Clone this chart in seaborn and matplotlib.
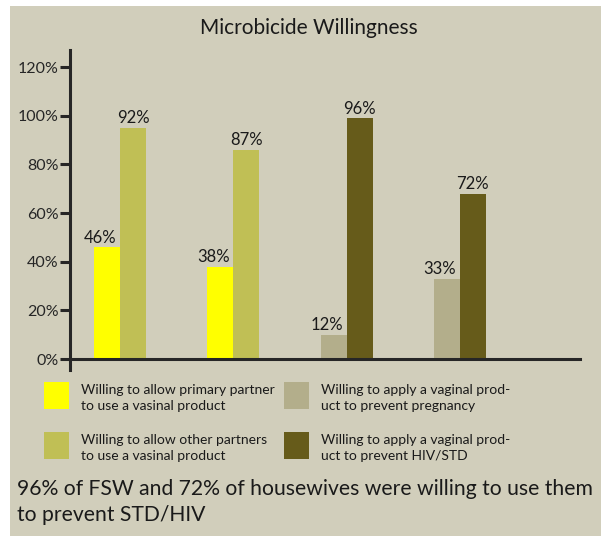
import matplotlib
matplotlib.use("Agg")
import matplotlib.pyplot as plt
from matplotlib.patches import Rectangle
import pandas as pd
import seaborn as sns

# ----------------------------------------------------------
# Data
# ----------------------------------------------------------

groups = ["FSW partners", "Housewife partners", "FSW prevention", "Housewife prevention"]

# bar heights as drawn, and the printed labels
left_values = [46, 38, 10, 33]
right_values = [95, 86, 99, 68]
left_labels = ["46%", "38%", "12%", "33%"]
right_labels = ["92%", "87%", "96%", "72%"]

series = [
    "Willing to allow primary partner\nto use a vasinal product",
    "Willing to allow other partners\nto use a vasinal product",
    "Willing to apply a vaginal prod-\nuct to prevent pregnancy",
    "Willing to apply a vaginal prod-\nuct to prevent HIV/STD",
]
series_colors = ["#ffff00", "#c0bf55", "#b3ae8b", "#665b1a"]
left_series = [0, 0, 2, 2]
right_series = [1, 1, 3, 3]

y_ticks = [0, 20, 40, 60, 80, 100, 120]

title = "Microbicide Willingness"
note = "96% of FSW and 72% of housewives were willing to use them\nto prevent STD/HIV"

BG = "#d1cebb"
W, H = 601, 536

# ----------------------------------------------------------
# Style
# ----------------------------------------------------------

sns.set_style("ticks")
plt.rcParams["font.family"] = ["Lato", "DejaVu Sans"]
plt.rcParams["text.color"] = "#1a1a1a"

df = pd.DataFrame({
    "group": groups * 2,
    "side": ["left"] * 4 + ["right"] * 4,
    "value": left_values + right_values,
})

# ----------------------------------------------------------
# Figure
# ----------------------------------------------------------

fig = plt.figure(figsize=(W / 100, H / 100), dpi=100, facecolor="white")
fig.add_artist(Rectangle((10 / W, 0), 1 - 10 / W, 1 - 6 / H,
                         transform=fig.transFigure, facecolor=BG,
                         edgecolor="none", zorder=-10))

ax = fig.add_axes([70 / W, 1 - 370 / H, 510 / W, 320 / H])
ax.set_facecolor("none")

sns.barplot(data=df, x="group", y="value", hue="side",
            hue_order=["left", "right"], order=groups,
            width=0.46, gap=0, saturation=1, legend=False, ax=ax)

for k, (cont, idx, labels) in enumerate([(ax.containers[0], left_series, left_labels),
                                         (ax.containers[1], right_series, right_labels)]):
    for bar, i in zip(cont, idx):
        bar.set_facecolor(series_colors[i])
        bar.set_edgecolor("none")
    texts = ax.bar_label(cont, labels=labels, padding=1, fontsize=12)
    if k == 0:
        # left-bar labels sit a little to the left in the original
        for t in texts:
            t.xyann = (-5, 1)

ax.set_xlim(-0.441, 4.06)
ax.set_ylim(-4.5, 127)
ax.set_yticks(y_ticks)
ax.set_yticklabels([f"{v}%" for v in y_ticks], fontsize=11.5)
ax.tick_params(axis="y", length=7, width=2.2, pad=1)
ax.tick_params(axis="x", length=0, labelbottom=False)
ax.set_xlabel("")
ax.set_ylabel("")

for s in ["top", "right"]:
    ax.spines[s].set_visible(False)
ax.spines["left"].set_linewidth(2.2)
ax.spines["bottom"].set_linewidth(2.2)
ax.spines["bottom"].set_position(("data", 0))

fig.text(309 / W, 1 - 28 / H, title, ha="center", va="center", fontsize=15)

# ----------------------------------------------------------
# Legend (2 x 2 grid of swatches)
# ----------------------------------------------------------

legend_x = [44, 44, 284, 284]
legend_y = [382, 432, 382, 432]
for label, color, x, y in zip(series, series_colors, legend_x, legend_y):
    fig.add_artist(Rectangle((x / W, 1 - (y + 27) / H), 25 / W, 27 / H,
                             transform=fig.transFigure, facecolor=color,
                             edgecolor="none"))
    fig.text((x + 37) / W, 1 - (y + 16) / H, label, ha="left", va="center",
             fontsize=10, linespacing=1.4)

fig.text(17 / W, 1 - 502 / H, note, ha="left", va="center",
         fontsize=15.2, linespacing=1.4)

fig.savefig("out.png", dpi=100, facecolor="white")
